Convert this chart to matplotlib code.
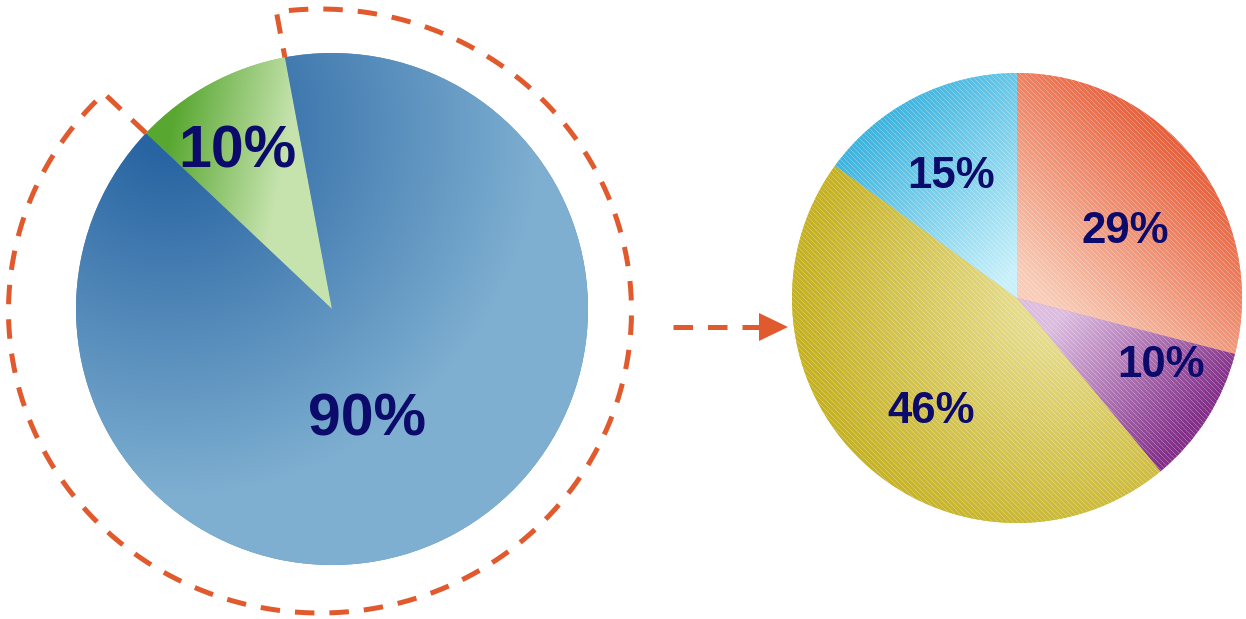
import numpy as np
import matplotlib
matplotlib.use("Agg")
import matplotlib.pyplot as plt
from matplotlib.colors import to_rgb
from matplotlib.patches import Polygon

# ---------------- data ----------------
left_values = [10, 90]            # share of the first pie (small slice, big slice)
right_values = [29, 10, 46, 15]   # breakdown shown in the second pie (clockwise from 12 o'clock)

# ---------------- layout / style ----------------
W, H = 1246, 619
TEXT_COLOR = "#0c0b6b"
ORANGE = "#e05a2e"
FONT = "Liberation Sans"

LC = (332, H - 309)   # left pie centre (pixel-based data coords)
LR = 256
RC = (1017, H - 298)  # right pie centre
RR = 225

# label anchor positions (x centre, baseline in image y)
left_label_pos = [(237.5, 168), (366.5, 436)]
right_label_pos = [(1125.5, 243), (1161, 377), (931, 423), (951.5, 188)]

fig = plt.figure(figsize=(W / 100, H / 100), dpi=100)
ax = fig.add_axes([0, 0, 1, 1])

lw_wedges, _ = ax.pie(left_values, startangle=100.6, counterclock=True,
                      center=LC, radius=LR, frame=True,
                      wedgeprops=dict(linewidth=0))
rw_wedges, _ = ax.pie(right_values, startangle=90, counterclock=False,
                      center=RC, radius=RR, frame=True,
                      wedgeprops=dict(linewidth=0))


def fill_gradient(wedge, cx, cy, r, c_near, c_far, mode, param, d0, d1, stripes=False):
    """c_near: colour at d <= d0, c_far: colour at d >= d1."""
    x0, x1 = int(cx - r - 3), int(cx + r + 3)
    y0, y1 = int(cy - r - 3), int(cy + r + 3)
    xs = np.arange(x0, x1) + 0.5
    ys = np.arange(y0, y1) + 0.5
    X, Y = np.meshgrid(xs, ys)
    if mode == "lin":
        ox, oy, ang = param
        a = np.deg2rad(ang)
        d = (X - ox) * np.cos(a) + (Y - oy) * np.sin(a)
    else:
        fx, fy = param
        d = np.hypot(X - fx, Y - fy)
    t = np.clip((d - d0) / (d1 - d0), 0, 1)
    N = np.array(to_rgb(c_near))
    F = np.array(to_rgb(c_far))
    img = N + (F - N) * t[..., None]
    if stripes:
        Xi = np.floor(X).astype(int)
        Yi = (H - np.floor(Y)).astype(int)
        m = ((Xi - Yi) % 5) == 0
        img[m] = img[m] * 0.72 + 0.28
    wedge.set_facecolor(tuple(N + (F - N) * 0.5))
    im = ax.imshow(img, extent=(x0, x1, y0, y1), origin="lower",
                   interpolation="nearest", zorder=wedge.get_zorder() + 0.1)
    im.set_clip_path(wedge)


# left pie gradients (dark near the upper-left, light further away)
fill_gradient(lw_wedges[0], LC[0], LC[1], LR, "#58a731", "#c6e3ae",
              "lin", (175, H - 105, -11.3), 0, 118)
fill_gradient(lw_wedges[1], LC[0], LC[1], LR, "#2864a2", "#7eafd1",
              "rad", (170, H - 125), 30, 370)

# right pie gradients (light near centre, dark outward, fine diagonal texture)
right_styles = [
    ("#f8ccb8", "#e75f3b", "lin", (RC[0], RC[1], 45), 22, 225),
    ("#dcbde0", "#84318a", "lin", (RC[0], RC[1], -40), 45, 214),
    ("#e6dc8e", "#c5b123", "rad", (1060, H - 300), 40, 262),
    ("#c8f0fa", "#3cb3de", "lin", (RC[0], RC[1], 135), 22, 225),
]
for w, st in zip(rw_wedges, right_styles):
    fill_gradient(w, RC[0], RC[1], RR, st[0], st[1], st[2], st[3], st[4], st[5], stripes=True)

# labels
for v, (x, yb) in zip(left_values, left_label_pos):
    ax.text(x, H - yb, f"{v}%", ha="center", va="baseline", fontsize=42.5,
            fontweight="bold", color=TEXT_COLOR, family=FONT, zorder=5)
for v, (x, yb) in zip(right_values, right_label_pos):
    ax.text(x, H - yb, f"{v}%", ha="center", va="baseline", fontsize=31.5,
            fontweight="bold", color=TEXT_COLOR, family=FONT, zorder=5)

# dashed bracket around the big slice of the left pie
E = (320, H - 311)
RX, RY = 311.5, 302


def ray_ellipse(th):
    dx, dy = np.cos(th), np.sin(th)
    px, py = LC[0] - E[0], LC[1] - E[1]
    A = (dx / RX) ** 2 + (dy / RY) ** 2
    B = 2 * (px * dx / RX ** 2 + py * dy / RY ** 2)
    C = (px / RX) ** 2 + (py / RY) ** 2 - 1
    s = (-B + np.sqrt(B * B - 4 * A * C)) / (2 * A)
    return LC[0] + s * dx, LC[1] + s * dy


th_a = np.deg2rad(lw_wedges[0].theta2)
th_b = np.deg2rad(lw_wedges[0].theta1)
qa = ray_ellipse(th_a)
qb = ray_ellipse(th_b)
pa = np.arctan2((qa[1] - E[1]) / RY, (qa[0] - E[0]) / RX)
pb = np.arctan2((qb[1] - E[1]) / RY, (qb[0] - E[0]) / RX)
if pb < pa:
    pb += 2 * np.pi
phi = np.linspace(pa, pb, 600)
path_x = np.concatenate([[LC[0] + LR * np.cos(th_a)], E[0] + RX * np.cos(phi),
                         [LC[0] + LR * np.cos(th_b)]])
path_y = np.concatenate([[LC[1] + LR * np.sin(th_a)], E[1] + RY * np.sin(phi),
                         [LC[1] + LR * np.sin(th_b)]])
ax.plot(path_x, path_y, color=ORANGE, lw=3.6, dashes=(3.9, 3.0),
        dash_capstyle="butt", dash_joinstyle="miter", zorder=4)

# dashed arrow
ax.plot([673, 760], [H - 327, H - 327], color=ORANGE, lw=3.6, dashes=(3.9, 3.0),
        dash_capstyle="butt", zorder=4)
ax.add_patch(Polygon([(759, H - 313), (759, H - 341), (788, H - 327)], closed=True,
                     facecolor=ORANGE, edgecolor="none", zorder=4))

ax.set_xlim(0, W)
ax.set_ylim(0, H)
ax.set_aspect("auto")
ax.axis("off")

fig.savefig("out.png", dpi=100, facecolor="white")
